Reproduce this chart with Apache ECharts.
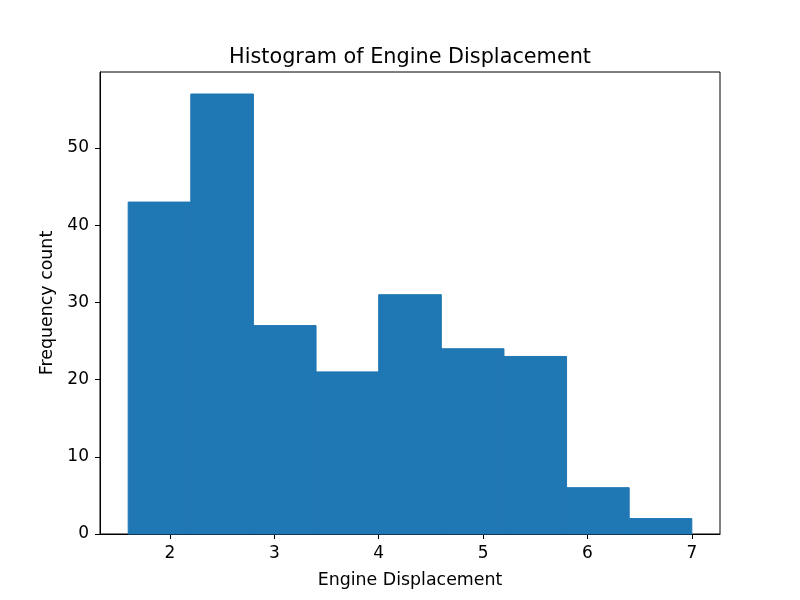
<!DOCTYPE html>
<html>
<head>
<meta charset="utf-8">
<script src="https://cdn.jsdelivr.net/npm/echarts@6/dist/echarts.min.js"></script>
<style>html,body{margin:0;padding:0;background:#fff}#c{width:800px;height:600px}</style>
</head>
<body>
<div id="c"></div>
<script>
var binEdges = [1.6, 2.2, 2.8, 3.4, 4.0, 4.6, 5.2, 5.8, 6.4, 7.0];
var counts = [43, 57, 27, 21, 31, 24, 23, 6, 2];
var xTicks = [2, 3, 4, 5, 6, 7];
var yTicks = [0, 10, 20, 30, 40, 50];

var data = counts.map(function (c, i) { return [binEdges[i], binEdges[i + 1], c]; });
var xPad = (binEdges[binEdges.length - 1] - binEdges[0]) * 0.05;
var yMax = Math.max.apply(null, counts) * 1.05;
var font = '"DejaVu Sans"';

var chart = echarts.init(document.getElementById('c'), null, {renderer: 'canvas'});
chart.setOption({
  animation: false,
  backgroundColor: '#fff',
  title: {
    text: 'Histogram of Engine Displacement',
    left: 224, top: 42,
    textStyle: {fontFamily: font, fontSize: 20.8, fontWeight: 'normal', color: '#000'}
  },
  grid: {left: 100, right: 80, top: 72, bottom: 66, show: true, borderColor: '#000', borderWidth: 1, backgroundColor: 'transparent'},
  xAxis: {
    type: 'value',
    min: binEdges[0] - xPad, max: binEdges[binEdges.length - 1] + xPad,
    name: 'Engine Displacement', nameLocation: 'middle', nameGap: 38,
    nameTextStyle: {fontFamily: font, fontSize: 17.4, color: '#000'},
    axisLine: {show: true, lineStyle: {color: '#000', width: 1}},
    axisTick: {show: true, length: 5, inside: false, customValues: xTicks, lineStyle: {color: '#000'}},
    axisLabel: {customValues: xTicks, margin: 11, fontFamily: font, fontSize: 17, color: '#000'},
    splitLine: {show: false}
  },
  yAxis: {
    type: 'value',
    min: 0, max: yMax,
    name: 'Frequency count', nameLocation: 'middle', nameGap: 41, nameRotate: 90,
    nameTextStyle: {fontFamily: font, fontSize: 17.4, color: '#000'},
    axisLine: {show: true, lineStyle: {color: '#000', width: 1}},
    axisTick: {show: true, length: 5, inside: false, customValues: yTicks, lineStyle: {color: '#000'}},
    axisLabel: {customValues: yTicks, margin: 11, fontFamily: font, fontSize: 17, color: '#000'},
    splitLine: {show: false}
  },
  series: [{
    type: 'custom',
    data: data,
    encode: {x: [0, 1], y: 2},
    renderItem: function (params, api) {
      var p0 = api.coord([api.value(0), 0]);
      var p1 = api.coord([api.value(1), api.value(2)]);
      return {
        type: 'rect',
        shape: {x: p0[0], y: p1[1], width: p1[0] - p0[0], height: p0[1] - p1[1]},
        style: {fill: '#1f77b4', stroke: '#1f77b4', lineWidth: 1}
      };
    }
  }]
});
</script>
</body>
</html>
